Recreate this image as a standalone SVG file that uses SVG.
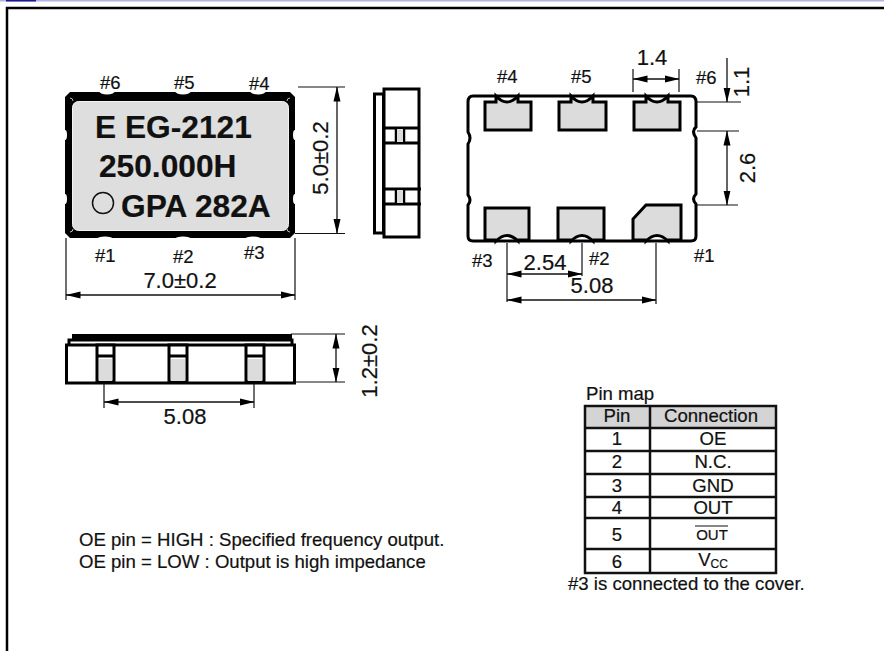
<svg xmlns="http://www.w3.org/2000/svg" width="884" height="651" viewBox="0 0 884 651">
<style>
text{font-family:"Liberation Sans",Arial,sans-serif;fill:#111;stroke:#111;stroke-width:.2}
.m{text-anchor:middle}
.l{font-size:18.500px}
.d{font-size:22px}
.t{font-size:18.600px}
.b{font-size:31.700px;font-weight:bold}
.dim{stroke:#111;stroke-width:1.2;fill:none}
.arr{stroke:#111;stroke-width:1.3;fill:none;marker-start:url(#a);marker-end:url(#a)}
.out{stroke:#000;stroke-width:3;fill:none}
.o{stroke:#000;stroke-width:3;fill:#fff}
.pad{stroke:#000;stroke-width:3;fill:#dcdcdc;stroke-linejoin:miter}
.tb{stroke:#111;stroke-width:2.5;fill:none}
</style>
<defs>
<marker id="a" viewBox="0 0 15 8" refX="14.500" refY="4" markerWidth="15" markerHeight="8" markerUnits="userSpaceOnUse" orient="auto-start-reverse"><path d="M15,4L0,0.5V7.5Z" fill="#000"/></marker>
</defs>
<rect id="topbar" x="0" y="0" width="884" height="1.500" fill="#b4b4e0"/>
<rect x="6" y="0" width="30" height="1.500" fill="#1a1a90"/>
<path id="frame" d="M7,651V8H884" fill="none" stroke="#000" stroke-width="2.500"/>

<g id="top-view">
<path d="M70,92H290L295,97V233L290,238H70L65,233V97Z" fill="#000"/>
<g fill="#fff">
<ellipse cx="107" cy="91" rx="8" ry="3.500"/><ellipse cx="183" cy="91" rx="8" ry="3.500"/><ellipse cx="258" cy="91" rx="8" ry="3.500"/>
<ellipse cx="105" cy="239" rx="8" ry="2.500"/><ellipse cx="183" cy="239" rx="8" ry="2.500"/><ellipse cx="253" cy="239" rx="8" ry="2.500"/>
<ellipse cx="65" cy="135" rx="2" ry="5"/><ellipse cx="65" cy="199" rx="2" ry="5"/>
<ellipse cx="295" cy="135" rx="2" ry="5"/><ellipse cx="295" cy="199" rx="2" ry="5"/>
</g>
<path d="M70,98q3,0 3,3M290,98q-3,0-3,3M70,232q3,0 3,-3M290,232q-3,0-3,-3" stroke="#bbb" stroke-width="1" fill="none"/>
<rect x="72.500" y="101.500" width="216" height="129" rx="6" fill="#dedede" stroke="#f4f4f4" stroke-width="1"/>
<text class="b" x="95" y="138">E EG-2121</text>
<text class="b" x="99" y="177">250.000H</text>
<circle cx="103" cy="203" r="10.500" fill="none" stroke="#111" stroke-width="1.500"/>
<text class="b" x="121" y="217">GPA 282A</text>
<text class="l" x="100" y="89">#6</text><text class="l" x="174" y="89">#5</text><text class="l" x="249" y="90">#4</text>
<text class="l" x="95" y="262">#1</text><text class="l" x="173" y="263">#2</text><text class="l" x="244" y="259">#3</text>
</g>

<g id="side-view">
<rect x="374.500" y="94" width="9" height="139" class="out"/>
<rect x="384" y="89" width="35" height="148" class="o"/>
<path d="M384,128H419M384,143H419M384,189H421M384,204H421" class="out" stroke-width="2.500"/>
<path d="M396,128V143M404,128V143M396,189V204M404,189V204" stroke="#000" stroke-width="2.500"/>
<rect x="397" y="129" width="6" height="13" fill="#dcdcdc"/><rect x="397" y="190" width="6" height="13" fill="#dcdcdc"/>
</g>

<g id="bottom-view">
<path d="M473,96H691Q696,96 696,102V127Q691,131 696,138V194Q691,199 696,204V236Q696,241 691,241H473Q468,241 468,236V205Q472,200 468,195V144Q472,138 468,132V102Q468,96 473,96Z" class="out" stroke-width="2.800"/>
<path id="pad4" class="pad" d="M485,102H496V96Q507,108 518,96V102H531V130H485Z"/>
<path id="pad5" class="pad" d="M559,102H571V96Q582,108 593,96V102H606V130H559Z"/>
<path id="pad6" class="pad" d="M634,102H646V96Q657,108 668,96V102H680V130H634Z"/>
<path id="pad3" class="pad" d="M485,208H529V240H518V241Q507,230 496,241V240H485Z"/>
<path id="pad2" class="pad" d="M558,208H604V240H593V241Q582,230 571,241V240H558Z"/>
<path id="pad1" class="pad" d="M646,205H681V240H668V241Q657,230 646,241V240H633V219Z"/>
<text class="l" x="497" y="83">#4</text><text class="l" x="571" y="83">#5</text><text class="l" x="696" y="84">#6</text>
<text class="l" x="472" y="267">#3</text><text class="l" x="589" y="265">#2</text><text class="l" x="694" y="262">#1</text>
</g>

<g id="front-view">
<rect x="72" y="334" width="220" height="6" fill="#000"/>
<path d="M69,345V340H292V345" class="out" stroke-width="2"/>
<rect x="66.500" y="345" width="228" height="38" class="o"/>
<g id="pins">
<rect x="97" y="345" width="17" height="37" class="o"/><rect x="169" y="345" width="18" height="37" class="o"/><rect x="246" y="345" width="18" height="37" class="o"/>
<path d="M97,356H114M169,356H187M246,356H264" class="out"/>
<rect x="99" y="359" width="13" height="22" fill="#dcdcdc"/><rect x="171" y="359" width="14" height="22" fill="#dcdcdc"/><rect x="248" y="359" width="14" height="22" fill="#dcdcdc"/>
</g>
</g>

<g id="connectors">
<path class="dim" d="M66,238V300M295,238V300M298,87H345M295,233.500H345"/>
<path class="arr" d="M66,295H295"/>
<path class="arr" d="M337,87V233.500"/>
<path class="dim" d="M633,69V92M679,69V92M697,102H741M697,131H739M697,205H738M507,243V302M582,243V276M656,243V304"/>
<path class="arr" d="M633,79H679"/>
<path d="M727,58V102" stroke="#111" stroke-width="1.300" fill="none" marker-end="url(#a)"/>
<path class="arr" d="M727,131V205"/>
<path class="arr" d="M507,274H582"/>
<path class="arr" d="M507,300H656"/>
<path class="dim" d="M291,334H345M295,382H345M104,383V408M254,383V408"/>
<path class="arr" d="M336,334V382"/>
<path class="arr" d="M104,402H254"/>
</g>

<g id="dim-labels">
<text class="d m" x="180" y="288">7.0±0.2</text>
<text class="d m" transform="translate(328,158) rotate(-90)">5.0±0.2</text>
<text class="d m" x="652" y="65">1.4</text>
<text class="d m" transform="translate(749,82) rotate(-90)">1.1</text>
<text class="d m" transform="translate(755,168) rotate(-90)">2.6</text>
<text class="d m" x="545" y="270">2.54</text>
<text class="d m" x="592" y="293">5.08</text>
<text class="d m" x="185" y="424">5.08</text>
<text class="d m" transform="translate(377,361) rotate(-90)">1.2±0.2</text>
</g>

<g id="pin-map">
<text class="t" x="586" y="400">Pin map</text>
<rect x="585" y="406" width="191" height="22" fill="#d4d4d4"/>
<rect x="585" y="406" width="191" height="167" class="tb"/>
<path class="tb" d="M650,406V573M585,428H776M585,451H776M585,474H776M585,497H776M585,518H776M585,549H776"/>
<text class="t m" x="617" y="422">Pin</text><text class="t m" x="711" y="422">Connection</text>
<text class="t m" x="617" y="445">1</text><text class="t m" x="713" y="445">OE</text>
<text class="t m" x="617" y="468">2</text><text class="t m" x="713" y="468">N.C.</text>
<text class="t m" x="617" y="492">3</text><text class="t m" x="713" y="492">GND</text>
<text class="t m" x="617" y="514">4</text><text class="t m" x="713" y="514">OUT</text>
<text class="t m" x="617" y="541">5</text><text class="m" style="font-size:15px" x="712" y="540">OUT</text>
<text class="t m" x="617" y="568">6</text><text class="t m" x="713" y="566">V<tspan style="font-size:12px" dy="2">CC</tspan></text>
<path d="M695,526H728" stroke="#111" stroke-width="1.200"/>
<text class="t" x="568" y="590">#3 is connected to the cover.</text>
</g>

<g id="notes">
<text class="t" x="79" y="546">OE pin = HIGH : Specified frequency output.</text>
<text class="t" x="79" y="568">OE pin = LOW : Output is high impedance</text>
</g>
</svg>
